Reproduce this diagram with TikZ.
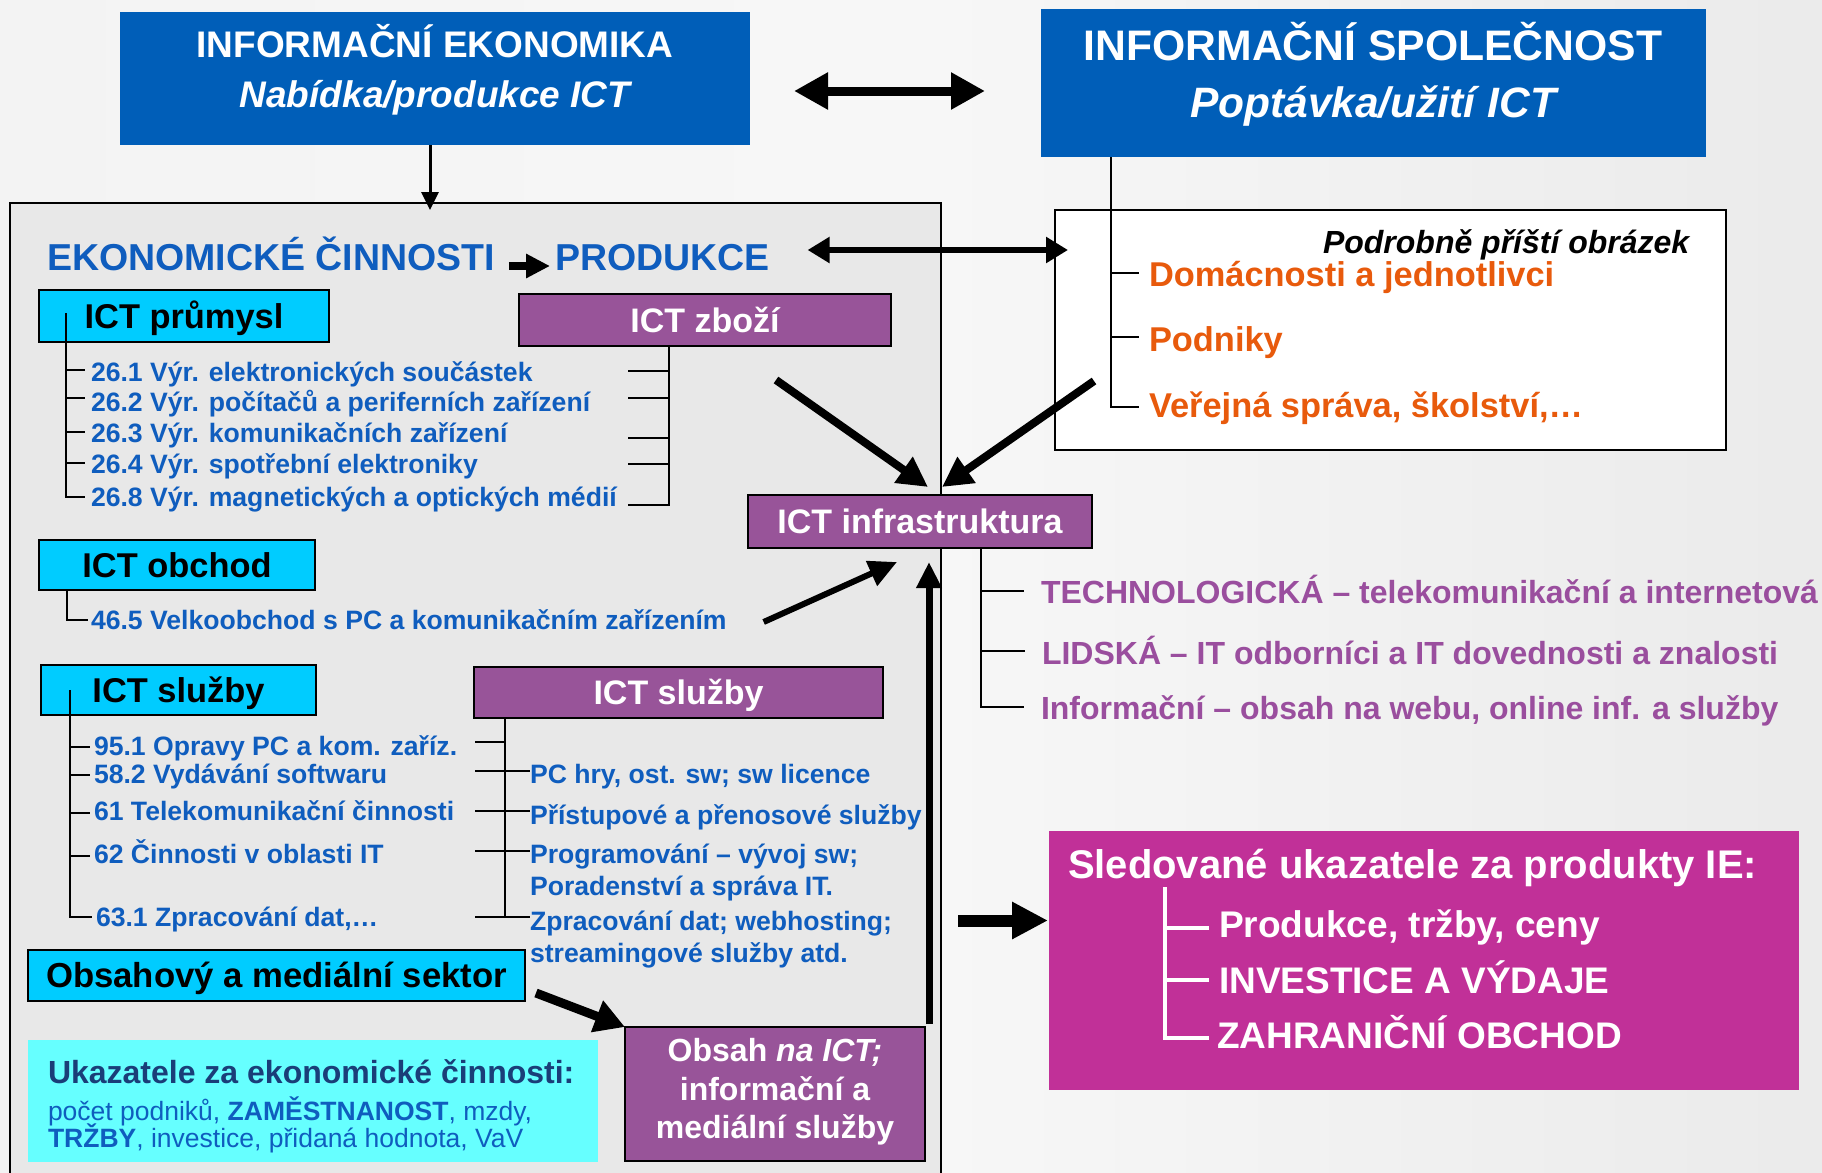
\documentclass[tikz,border=0pt]{standalone}
\usepackage{fontspec}
\setmainfont{Liberation Sans}
\usetikzlibrary{arrows.meta,calc}
\definecolor{ieblue}{HTML}{005EB8}
\definecolor{txtblue}{HTML}{0F5DBE}
\definecolor{cyanbox}{HTML}{00CCFF}
\definecolor{purplebox}{HTML}{985499}
\definecolor{purpletxt}{HTML}{9A4E9E}
\definecolor{orangetxt}{HTML}{E85A0C}
\definecolor{magbox}{HTML}{C13098}
\definecolor{lightcyan}{HTML}{66FFFF}
\definecolor{panelgray}{HTML}{E8E8E8}
\definecolor{navytxt}{HTML}{1A3E78}
\definecolor{bggray}{HTML}{F3F3F3}
\newcommand{\myfs}[1]{\fontsize{#1}{#1}\selectfont}
\begin{document}
\begin{tikzpicture}[x=1pt,y=-1pt,
  every node/.style={inner sep=0pt, outer sep=0pt},
  boxbase/.style={anchor=north west, line width=2.5pt},
  cybox/.style={boxbase, draw=black, fill=cyanbox, text=black, font=\myfs{34.4}\bfseries, text height=24pt, text depth=0pt},
  pubox/.style={boxbase, draw=black, fill=purplebox, text=white, font=\myfs{34}\bfseries, text height=24pt, text depth=0pt},
  bluebox/.style={anchor=north west, fill=ieblue},
  titlew/.style={anchor=base, text=white},
  item/.style={anchor=base west, text=txtblue, font=\myfs{26.6}\bfseries},
  infitem/.style={anchor=base west, text=purpletxt, font=\myfs{32}\bfseries},
  oritem/.style={anchor=base west, text=orangetxt, font=\myfs{34.4}\bfseries},
  slitem/.style={anchor=base west, text=white, font=\myfs{37}\bfseries},
  tree/.style={draw=black, line width=2.5pt},
  wtree/.style={draw=white, line width=4pt},
  thinarrow/.style={draw=black, line width=3pt, -{Triangle[length=18pt,width=17pt]}},
  fat/.style={draw=black, line width=#1},
  fat/.default=7pt
]
\useasboundingbox (0,0) rectangle (1822,1172);
\shade[left color=bggray, right color=white!92!black, middle color=white!97!black] (0,0) rectangle (1822,1172);

% ---------- top boxes ----------
\node[bluebox, minimum width=630pt, minimum height=133pt] (ie) at (120,12) {};
\node[titlew, font=\myfs{37}\bfseries] (ieA) at (435,57) {INFORMAČNÍ EKONOMIKA};
\node[titlew, font=\myfs{37}\bfseries\itshape] (ieB) at (435,107) {Nabídka/produkce ICT};

\node[bluebox, minimum width=665pt, minimum height=148pt] (is) at (1041,9) {};
\node[titlew, font=\myfs{42.7}\bfseries] (isA) at (1373,60) {INFORMAČNÍ SPOLEČNOST};
\node[titlew, font=\myfs{42.5}\bfseries\itshape] (isB) at (1373,117) {Poptávka/užití ICT};

\draw[fat=9pt, {Triangle[length=34pt,width=35pt]}-{Triangle[length=34pt,width=35pt]}]
  ($(ie.east)+(44,12.5)$) -- ($(is.west)+(-56,8)$);

% ---------- main panel ----------
\node[anchor=north west, draw=black, line width=2.5pt, fill=panelgray, minimum width=931pt, minimum height=990pt] (panel) at (10,203) {};
\draw[thinarrow] ($(ie.south)+(-5,0)$) -- ($(ie.south |- panel.north)+(-5,7)$);

\node[anchor=base west, text=txtblue, font=\myfs{37.5}\bfseries] (ek) at (47,270) {EKONOMICKÉ ČINNOSTI};
\node[anchor=base west, text=txtblue, font=\myfs{37.5}\bfseries] (prod) at (555,270) {PRODUKCE};
\draw[fat=8pt, -{Triangle[length=24pt,width=23pt]}] ($(ek.base east)+(14,-4)$) -- ($(prod.base west)+(-5,-4)$);

% ---------- white box (society) ----------
\node[anchor=north west, draw=black, line width=2.5pt, fill=white, minimum width=671pt, minimum height=240pt] (white) at (1055,210) {};
\draw[fat=6pt, {Triangle[length=22pt,width=25pt]}-{Triangle[length=22pt,width=25pt]}]
  ($(prod.base east)+(38,-20)$) -- ($(white.north west)+(13,40)$);
\node[anchor=base west, font=\myfs{32}\bfseries\itshape] (podr) at (1323,253) {Podrobně příští obrázek};
\node[oritem] (dom) at (1149,286) {Domácnosti a jednotlivci};
\node[oritem] (pod) at (1149,351) {Podniky};
\node[oritem] (ver) at (1149,417) {Veřejná správa, školství,…};
\coordinate (isx) at ($(is.south west)+(70,0)$);
\draw[tree] (isx) |- ($(dom.base west)+(-10,-13)$);
\draw[tree] (isx) |- ($(pod.base west)+(-10,-14)$);
\draw[tree] (isx) |- ($(ver.base west)+(-10,-10)$);

% ---------- ICT průmysl ----------
\node[cybox, minimum width=290pt, minimum height=52pt] (prum) at (39,290) {ICT průmysl};
\node[item] (i261) at (91,381) {26.1 Výr. elektronických součástek};
\node[item] (i262) at (91,411) {26.2 Výr. počítačů a periferních zařízení};
\node[item] (i263) at (91,442) {26.3 Výr. komunikačních zařízení};
\node[item] (i264) at (91,473) {26.4 Výr. spotřební elektroniky};
\node[item] (i268) at (91,506) {26.8 Výr. magnetických a optických médií};
\coordinate (prx) at ($(prum.north west)+(27,23)$);
\foreach \n/\d in {i261/-11,i262/-13,i263/-10,i264/-10,i268/-9}
  \draw[tree] (prx) |- ($(\n.base west)+(-6,\d)$);

% ---------- ICT zboží ----------
\node[pubox, minimum width=372pt, minimum height=52pt] (zbozi) at (519,294) {ICT zboží};
\coordinate (zbx) at ($(zbozi.south west)+(150,0)$);
\foreach \y in {371,398,438,464,505}
  \draw[tree] (zbx) |- (628,\y);

% ---------- ICT infrastruktura ----------
\node[pubox, minimum width=344pt, minimum height=53pt] (infra) at (748,495) {ICT infrastruktura};
\draw[fat=8pt, -{Triangle[length=30pt,width=30pt]}] ($(zbozi.south)+(71,34)$) -- ($(infra.north)+(8,-8)$);
\draw[fat=8pt, -{Triangle[length=30pt,width=30pt]}] ($(white.south west)+(39,-69)$) -- ($(infra.north)+(22,-8)$);

\node[infitem] (t1) at (1041,603) {TECHNOLOGICKÁ – telekomunikační a internetová};
\node[infitem] (t2) at (1042,664) {LIDSKÁ – IT odborníci a IT dovednosti a znalosti};
\node[infitem] (t3) at (1041,719) {Informační – obsah na webu, online inf. a služby};
\coordinate (infx) at ($(infra.south west)+(233,0)$);
\draw[tree] (infx) |- ($(t1.base west)+(-17,-12)$);
\draw[tree] (infx) |- ($(t2.base west)+(-17,-13)$);
\draw[tree] (infx) |- ($(t3.base west)+(-17,-12)$);

% ---------- ICT obchod ----------
\node[cybox, minimum width=276pt, minimum height=50pt] (obchod) at (39,540) {ICT obchod};
\node[item] (i465) at (91,629) {46.5 Velkoobchod s PC a komunikačním zařízením};
\draw[tree] ($(obchod.south west)+(28,0)$) |- ($(i465.base west)+(-3,-9)$);
\draw[fat=6pt, -{Triangle[length=28pt,width=26pt]}] ($(i465.base east)+(37,-7)$) -- ($(infra.south west)+(149,14)$);

% ---------- ICT služby (cyan) ----------
\node[cybox, minimum width=275pt, minimum height=50pt] (sluzL) at (41,665) {ICT služby};
\node[item] (s951) at (94,755) {95.1 Opravy PC a kom. zaříz.};
\node[item] (s582) at (94,783) {58.2 Vydávání softwaru};
\node[item] (s61) at (94,820) {61 Telekomunikační činnosti};
\node[item] (s62) at (94,863) {62 Činnosti v oblasti IT};
\node[item] (s631) at (96,926) {63.1 Zpracování dat,…};
\coordinate (slx) at ($(sluzL.north west)+(29,25)$);
\foreach \n/\d in {s951/-8,s582/-8,s61/-7,s62/-7,s631/-9}
  \draw[tree] (slx) |- ($(\n.base west)+(-4,\d)$);

% ---------- ICT služby (purple) ----------
\node[pubox, minimum width=409pt, minimum height=51pt] (sluzR) at (474,667) {ICT služby};
\node[item] (r1) at (530,783) {PC hry, ost. sw; sw licence};
\node[item] (r2) at (530,824) {Přístupové a přenosové služby};
\node[item] (r3) at (530,863) {Programování – vývoj sw;};
\node[item] (r4) at (530,895) {Poradenství a správa IT.};
\node[item] (r5) at (530,930) {Zpracování dat; webhosting;};
\node[item] (r6) at (530,962) {streamingové služby atd.};
\coordinate (srx) at ($(sluzR.south west)+(31,0)$);
\draw[tree] (srx) -- ($(srx |- r5.base)+(0,-13)$);
\draw[tree] (475,742) -- (srx |- 0,742);
\foreach \n/\d in {r1/-12,r2/-13,r3/-12,r5/-13}
  \draw[tree] ($(\n.base west)+(-55,\d)$) -- ($(\n.base west)+(0,\d)$);

% ---------- Obsahový a mediální sektor ----------
\node[cybox, font=\myfs{34.7}\bfseries, minimum width=497pt, minimum height=51pt] (obsahovy) at (28,950) {Obsahový a mediální sektor};
\node[anchor=north west, fill=lightcyan, minimum width=570pt, minimum height=122pt] (ukaz) at (28,1040) {};
\node[anchor=base west, text=navytxt, font=\myfs{32}\bfseries] (uk1) at (48,1083) {Ukazatele za ekonomické činnosti:};
\node[anchor=base west, text=txtblue, font=\myfs{26.5}] (uk2) at (48,1120) {počet podniků, \textbf{ZAMĚSTNANOST}, mzdy,};
\node[anchor=base west, text=txtblue, font=\myfs{26.5}] (uk3) at (48,1147) {\textbf{TRŽBY}, investice, přidaná hodnota, VaV};

\node[boxbase, draw=black, fill=purplebox, minimum width=300pt, minimum height=134pt] (obsah) at (625,1027) {};
\node[titlew, font=\myfs{32}\bfseries] (ob1) at (775,1061) {Obsah \textit{na ICT;}};
\node[titlew, font=\myfs{32}\bfseries] (ob2) at (775,1100) {informační a};
\node[titlew, font=\myfs{32}\bfseries] (ob3) at (775,1138) {mediální služby};

\draw[fat=9pt, -{Triangle[length=30pt,width=32pt]}] ($(obsahovy.south east)+(11,-8)$) -- (obsah.north west);
\draw[fat=7pt, -{Triangle[length=26pt,width=24pt]}] ($(obsah.north)+(154,-3)$) -- ($(infra.south)+(9,14)$);

% ---------- Sledované ukazatele ----------
\node[anchor=north west, fill=magbox, minimum width=750pt, minimum height=259pt] (sled) at (1049,831) {};
\node[anchor=base west, text=white, font=\myfs{40}\bfseries] (slT) at (1068,878) {Sledované ukazatele za produkty IE:};
\node[slitem, font=\myfs{37.1}\bfseries] (sl1) at (1219,937) {Produkce, tržby, ceny};
\node[slitem] (sl2) at (1219,993) {INVESTICE A VÝDAJE};
\node[slitem] (sl3) at (1217,1048) {ZAHRANIČNÍ OBCHOD};
\coordinate (sltx) at ($(sled.north west)+(116,56)$);
\draw[wtree] (sltx) |- ($(sl1.base west)+(-10,-9)$);
\draw[wtree] (sltx) |- ($(sl2.base west)+(-10,-13)$);
\draw[wtree] (sltx) |- ($(sl3.base west)+(-8,-10)$);
\draw[fat=12pt, -{Triangle[length=36pt,width=35pt]}] ($(sled.west)+(-91,-40)$) -- ($(sled.west)+(-1,-40)$);
\end{tikzpicture}
\end{document}
